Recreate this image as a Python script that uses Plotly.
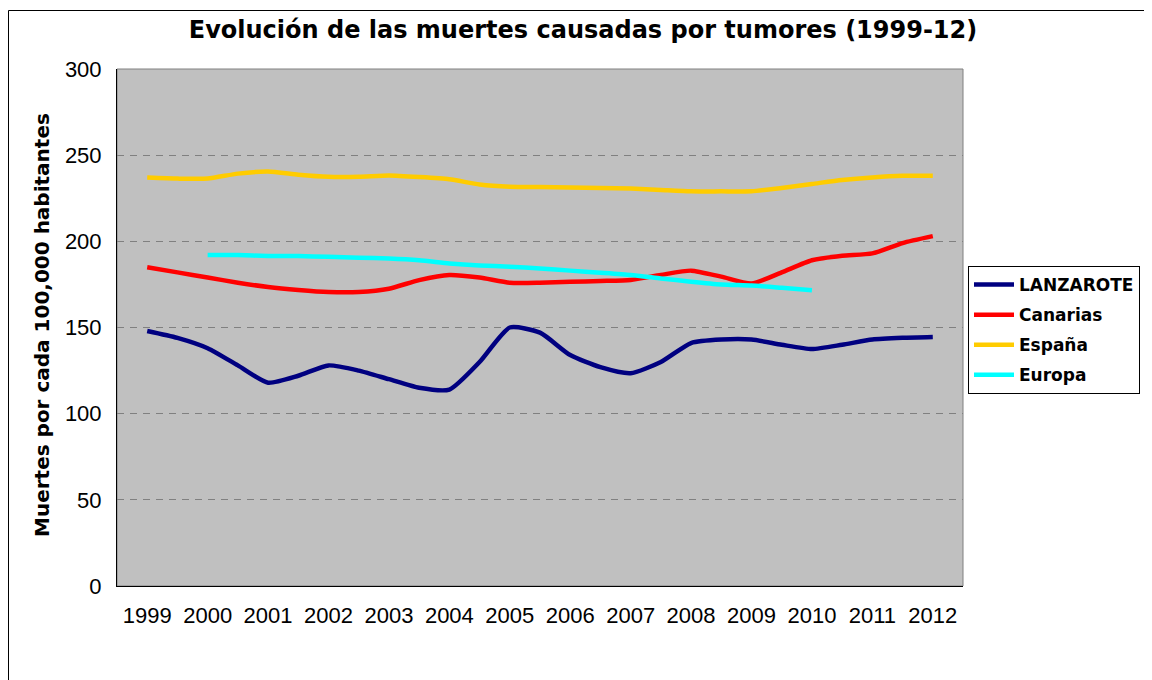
import plotly.graph_objects as go

years = [1999 + 0.5 * i for i in range(27)]
tick_years = list(range(1999, 2013))

lanzarote = [148, 144, 138, 128, 118, 122, 128, 125, 120, 115, 114, 130, 150, 147,
             134, 127, 123.5, 130, 141, 143, 143, 140, 137.5, 140, 143, 144, 144.5]
canarias = [185, 182, 179, 176, 173.5, 171.8, 170.6, 170.6, 172.5, 177.5, 180.5, 179, 176, 176,
            176.5, 177, 177.6, 180.5, 183, 179.5, 175.5, 182, 189, 191.6, 193, 199, 203]
espana = [237, 236.4, 236.4, 239.3, 240.5, 238.7, 237.5, 237.5, 238.2, 237.3, 236, 233, 231.7, 231.5,
          231.3, 231, 230.6, 229.8, 229, 229, 229, 231, 233.3, 235.6, 237.1, 238, 238]
europa_years = years[2:23]
europa = [192, 192, 191.5, 191.5, 191, 190.5, 190, 189, 187.2, 186, 185.3, 184.3,
          183, 181.8, 180.5, 178.5, 176.6, 175, 174.3, 173, 171.6]

series = [
    ("LANZAROTE", years, lanzarote, "#000080"),
    ("Canarias", years, canarias, "#FF0000"),
    ("España", years, espana, "#FFCC00"),
    ("Europa", europa_years, europa, "#00FFFF"),
]

fig = go.Figure()
for name, xs, ys, color in series:
    fig.add_trace(go.Scatter(x=xs, y=ys, name="<b>" + name + "</b>", mode="lines", legendgroup=name,
                             line=dict(color=color, width=4.5, shape="spline", smoothing=0.6)))

# the page body has an 8px margin, so figure coords = screen coords - 8
OFF = 8
W, H = 1152 - OFF, 680 - OFF
L, R, T, B = 117 - OFF, 963 - OFF, 69 - OFF, 586 - OFF
pw, ph = R - L, B - T

fig.update_layout(
    width=W, height=H,
    margin=dict(l=L, r=W - R, t=T, b=H - B, pad=0),
    paper_bgcolor="white",
    plot_bgcolor="#C0C0C0",
    font=dict(family="Liberation Sans", size=22, color="black"),
    title=dict(text="<b>Evolución de las muertes causadas por tumores (1999-12)</b>",
               x=(583 - OFF) / W, xanchor="center", y=1 - (30 - OFF) / H, yanchor="middle",
               font=dict(family="DejaVu Sans", size=24, color="black")),
    showlegend=True,
    legend=dict(x=(968 - 117) / pw, xanchor="left", y=(586 - 266) / ph, yanchor="top",
                bgcolor="white", bordercolor="black", borderwidth=1,
                font=dict(family="DejaVu Sans", size=17, color="black"),
                itemwidth=40, tracegroupgap=5),
    xaxis=dict(range=[1998.5, 2012.5], tickmode="array", tickvals=tick_years,
               ticktext=[str(y) for y in tick_years], showgrid=False, zeroline=False,
               showline=True, linecolor="black", linewidth=1, ticks="",
               ticklabelstandoff=10),
    yaxis=dict(range=[0, 300], tickmode="array", tickvals=[0, 50, 100, 150, 200, 250, 300],
               showgrid=True, gridcolor="#808080", gridwidth=1, griddash="7px,6px",
               zeroline=False, showline=True, linecolor="black", linewidth=1, ticks="",
               ticklabelstandoff=10),
    annotations=[dict(text="<b>Muertes por cada 100,000 habitantes</b>", xref="paper", yref="paper",
                      x=(42 - 117) / pw, y=(586 - 325) / ph, xanchor="center", yanchor="middle",
                      textangle=-90, showarrow=False,
                      font=dict(family="DejaVu Sans", size=20, color="black"))],
    shapes=[
        dict(type="rect", xref="paper", yref="paper", x0=0, x1=1, y0=0, y1=1,
             line=dict(color="#808080", width=1), layer="below"),
        dict(type="rect", xref="paper", yref="paper", x0=(0.5 - L) / pw, x1=(1200 - L) / pw,
             y0=(B - 720) / ph, y1=(B - 2.5) / ph, line=dict(color="black", width=1), layer="below"),
    ],
)

fig.write_html("out.html")
